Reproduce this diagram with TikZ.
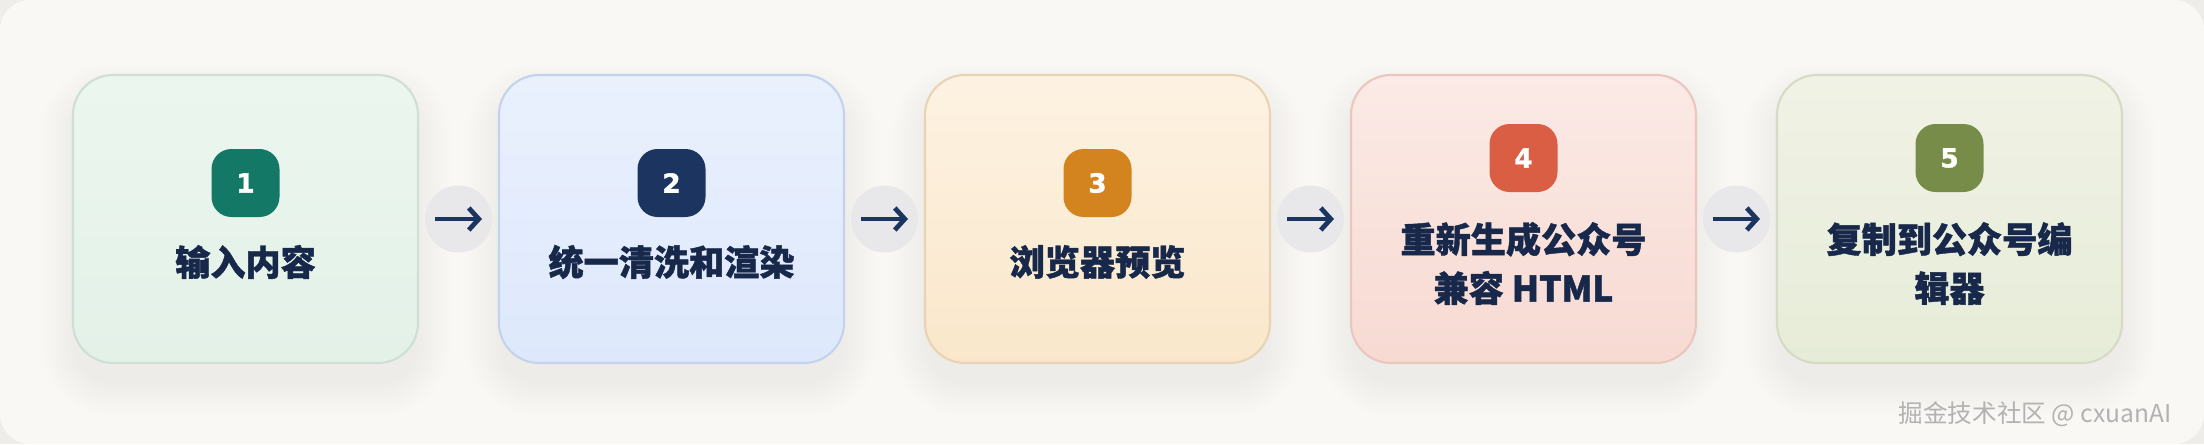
\documentclass[tikz,border=0pt]{standalone}
\usepackage{fontspec}
\usepackage{tikz}
\usetikzlibrary{positioning, arrows.meta}
\newfontfamily\cjkfont{Noto Sans CJK SC}[BoldFeatures={FakeBold=1.2}]
\newfontfamily\numfont{DejaVu Sans}[BoldFeatures={FakeBold=1.5}]
\definecolor{pagebg}{HTML}{F9F8F5}
\definecolor{pageout}{HTML}{EEEDEA}
\definecolor{navy}{HTML}{17284A}
\definecolor{arrowcolor}{HTML}{1B3560}
\definecolor{ringcolor}{HTML}{E8E8EA}
\definecolor{inputtop}{HTML}{EBF6EF}
\definecolor{inputbot}{HTML}{E3F1E7}
\definecolor{inputline}{HTML}{CEDFD4}
\definecolor{inputbadge}{HTML}{147866}
\definecolor{cleantop}{HTML}{EAF1FD}
\definecolor{cleanbot}{HTML}{DDE8FC}
\definecolor{cleanline}{HTML}{C3D3EE}
\definecolor{cleanbadge}{HTML}{1B3560}
\definecolor{previewtop}{HTML}{FDF2E2}
\definecolor{previewbot}{HTML}{FAE7CB}
\definecolor{previewline}{HTML}{E8D4B4}
\definecolor{previewbadge}{HTML}{D4841F}
\definecolor{regentop}{HTML}{FBEAE6}
\definecolor{regenbot}{HTML}{F7DAD2}
\definecolor{regenline}{HTML}{EAC6BE}
\definecolor{regenbadge}{HTML}{D95E43}
\definecolor{copytop}{HTML}{F0F2E5}
\definecolor{copybot}{HTML}{E7ECD8}
\definecolor{copyline}{HTML}{D5DBC4}
\definecolor{copybadge}{HTML}{768C48}

\begin{document}
\begin{tikzpicture}[
    stepbox/.style={draw, rectangle, rounded corners=0.4cm, minimum width=3.45cm, minimum height=2.88cm, line width=0.6pt},
    badge/.style={rectangle, rounded corners=0.2cm, minimum size=0.68cm, inner sep=0pt, text=white, font=\numfont\bfseries\fontsize{7.5}{8}\selectfont},
    label/.style={text=navy, align=center, inner sep=0pt, font=\cjkfont\bfseries\fontsize{10}{13.9}\selectfont},
    ring/.style={circle, fill=ringcolor, minimum size=0.67cm, inner sep=0pt},
    flowarrow/.style={-{Straight Barb[length=0.1cm, width=0.22cm]}, line width=1.35pt, arrowcolor}
]
    \useasboundingbox (0,0) rectangle (22.04,4.44);
    % 背景
    \fill[pageout] (0,0) rectangle (22.04,4.44);
    \fill[pagebg, rounded corners=0.3cm] (0,0) rectangle (22.04,4.44);

    % 阴影
    \foreach \x in {2.455,6.715,10.975,15.235,19.495}
        \foreach \s in {0,...,11}{
            \pgfmathsetmacro\r{0.4+0.03*\s}
            \fill[black, opacity=0.0045, rounded corners=\r cm]
                (\x-1.725-0.03*\s, 0.81-0.2-0.03*\s) rectangle (\x+1.725+0.03*\s, 3.69-0.2+0.03*\s);
        }

    % 1 输入内容
    \node[stepbox, draw=inputline, top color=inputtop, bottom color=inputbot] (input) at (2.455,2.25) {};
    \node[badge, fill=inputbadge] (n1) at (2.455,2.61) {1};
    \node[label] (t1) at (2.455,1.82) {输入内容};

    % 2 统一清洗和渲染
    \node[stepbox, draw=cleanline, top color=cleantop, bottom color=cleanbot] (clean) at (6.715,2.25) {};
    \node[badge, fill=cleanbadge] (n2) at (6.715,2.61) {2};
    \node[label] (t2) at (6.715,1.82) {统一清洗和渲染};

    % 3 浏览器预览
    \node[stepbox, draw=previewline, top color=previewtop, bottom color=previewbot] (preview) at (10.975,2.25) {};
    \node[badge, fill=previewbadge] (n3) at (10.975,2.61) {3};
    \node[label] (t3) at (10.975,1.82) {浏览器预览};

    % 4 重新生成
    \node[stepbox, draw=regenline, top color=regentop, bottom color=regenbot] (regen) at (15.235,2.25) {};
    \node[badge, fill=regenbadge] (n4) at (15.235,2.86) {4};
    \node[label] (t4) at (15.235,1.805) {重新生成公众号\\兼容 HTML};

    % 5 复制
    \node[stepbox, draw=copyline, top color=copytop, bottom color=copybot] (copy) at (19.495,2.25) {};
    \node[badge, fill=copybadge] (n5) at (19.495,2.86) {5};
    \node[label] (t5) at (19.495,1.805) {复制到公众号编\\辑器};

    % 箭头
    \node[ring] (a1) at (4.585,2.25) {};
    \node[ring] (a2) at (8.845,2.25) {};
    \node[ring] (a3) at (13.105,2.25) {};
    \node[ring] (a4) at (17.365,2.25) {};
    \draw[flowarrow] ([xshift=-0.235cm]a1.center) -- ([xshift=0.235cm]a1.center);
    \draw[flowarrow] ([xshift=-0.235cm]a2.center) -- ([xshift=0.235cm]a2.center);
    \draw[flowarrow] ([xshift=-0.235cm]a3.center) -- ([xshift=0.235cm]a3.center);
    \draw[flowarrow] ([xshift=-0.235cm]a4.center) -- ([xshift=0.235cm]a4.center);

    % 水印
    \node[text=black!30, font=\cjkfont\fontsize{7}{8}\selectfont, anchor=east] (mark) at (21.84,0.30) {掘金技术社区 @ cxuanAI};
\end{tikzpicture}
\end{document}
